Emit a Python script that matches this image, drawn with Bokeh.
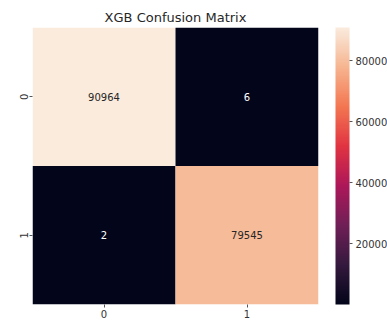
from bokeh.plotting import figure
from bokeh.models import ColumnDataSource, LinearColorMapper, ColorBar, FixedTicker, FactorRange
from bokeh.transform import transform
from bokeh.embed import file_html
from bokeh.resources import INLINE

# data
true_labels = ["0", "0", "1", "1"]
pred_labels = ["0", "1", "0", "1"]
counts = [90964, 6, 2, 79545]
tick_values = [20000, 40000, 60000, 80000]
title_text = "XGB Confusion Matrix"

# rocket colormap anchor colours
stops = ["#03051a", "#35193e", "#701f57", "#ad1759", "#e13342", "#f37651", "#f6b48f", "#faebdd"]
pos = [0, 1/7, 2/7, 3/7, 4/7, 5/7, 6/7, 1]

def hex2rgb(h):
    return tuple(int(h[i:i+2], 16) for i in (1, 3, 5))

palette = []
N = 256
for k in range(N):
    t = k / (N - 1)
    for i in range(len(pos) - 1):
        if pos[i] <= t <= pos[i + 1]:
            f = (t - pos[i]) / (pos[i + 1] - pos[i])
            a = hex2rgb(stops[i]); b = hex2rgb(stops[i + 1])
            c = tuple(round(a[j] + (b[j] - a[j]) * f) for j in range(3))
            palette.append("#%02x%02x%02x" % c)
            break

vmin, vmax = min(counts), max(counts)
mapper = LinearColorMapper(palette=palette, low=vmin, high=vmax)

text_colors = ["#262626" if (v - vmin) / (vmax - vmin) > 0.5 else "#ffffff" for v in counts]
src = ColumnDataSource(dict(x=pred_labels, y=true_labels, v=counts,
                            t=[str(c) for c in counts], tc=text_colors))

p = figure(width=387, height=324, output_backend="svg", toolbar_location=None,
           x_range=FactorRange("0", "1"), y_range=FactorRange("1", "0"),
           min_border_left=32, min_border_right=69, min_border_top=27, min_border_bottom=20,
           title=title_text)
p.title.align = "center"
p.title.text_font = "DejaVu Sans"
p.title.text_font_style = "normal"
p.title.text_font_size = "13px"
p.title.text_color = "#262626"
p.title.offset = 0
p.title.standoff = 5

p.rect(x="x", y="y", width=1, height=1, source=src,
       fill_color=transform("v", mapper), line_color=None)
p.text(x="x", y="y", text="t", source=src, text_color="tc",
       text_align="center", text_baseline="middle", text_font_size="10px",
       text_font={"value": "DejaVu Sans"})

p.grid.visible = False
p.outline_line_color = None
for ax in (p.xaxis, p.yaxis):
    ax.axis_line_color = None
    ax.major_tick_line_color = "#555555"
    ax.major_tick_in = 0
    ax.major_tick_out = 3
    ax.major_label_text_font = "DejaVu Sans"
    ax.major_label_text_font_size = "10px"
    ax.major_label_text_color = "#333333"
    ax.major_label_standoff = 2
p.yaxis.major_label_orientation = "vertical"

cb = ColorBar(color_mapper=mapper, ticker=FixedTicker(ticks=tick_values), width=14,
              height=277, padding=0, margin=0, bar_line_color=None,
              major_tick_line_color="#555555", major_tick_in=0, major_tick_out=3,
              major_label_text_font="DejaVu Sans", major_label_text_font_size="10px",
              major_label_text_color="#333333", label_standoff=3,
              location=(303, 0), border_line_color=None, background_fill_color=None)
p.add_layout(cb, "center")

open("out.html", "w").write(file_html(p, INLINE))
